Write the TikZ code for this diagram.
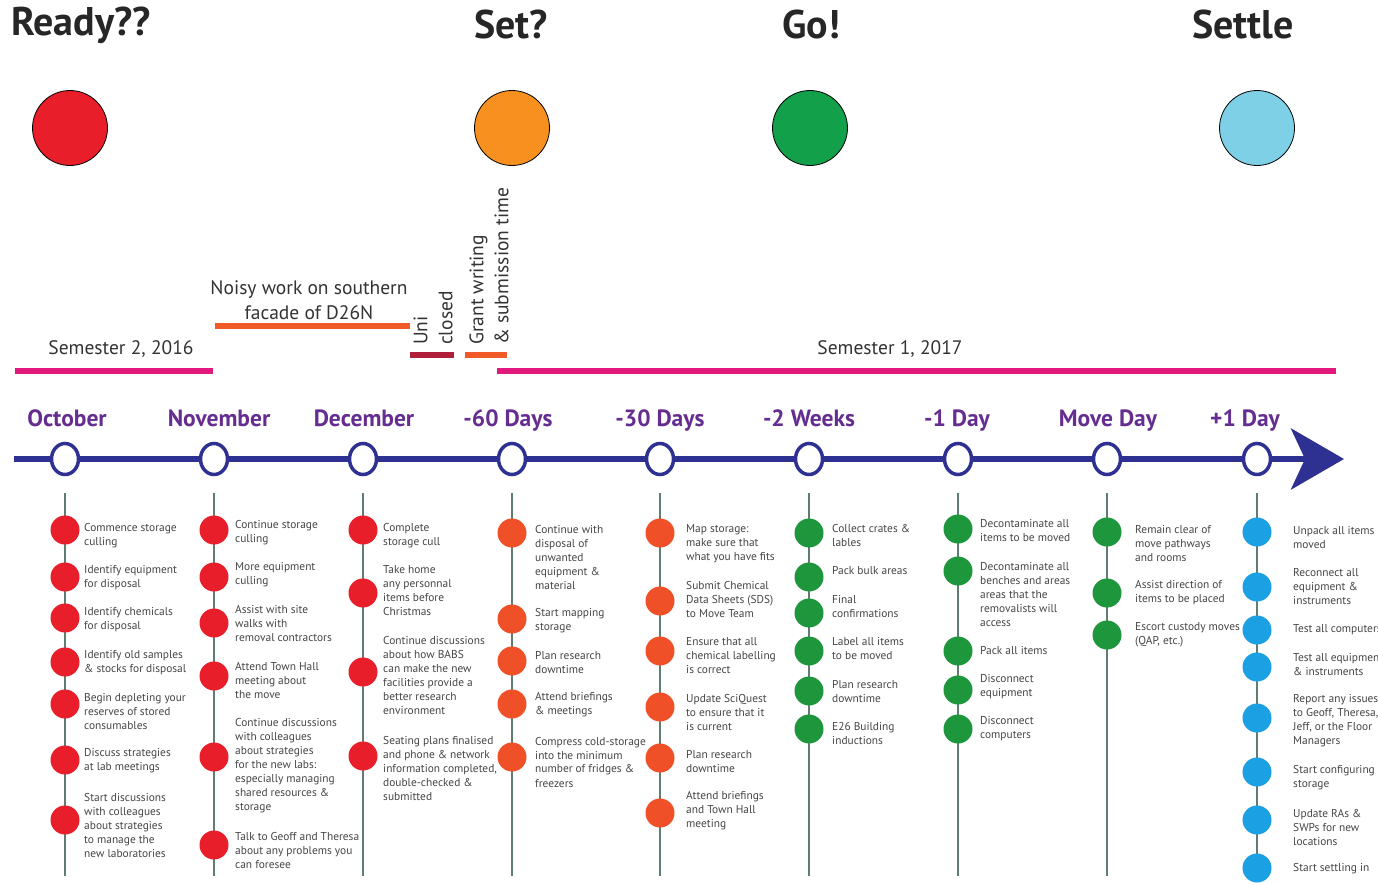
\documentclass[tikz,border=0pt]{standalone}
\usepackage{fontspec}
\setmainfont{PT Sans}
\usetikzlibrary{positioning,arrows.meta,shapes.geometric}

\definecolor{tlnavy}{RGB}{46,49,146}
\definecolor{tlpurple}{RGB}{102,45,145}
\definecolor{stemgrey}{RGB}{95,125,112}
\definecolor{dotred}{RGB}{232,30,42}
\definecolor{dotorange}{RGB}{240,80,40}
\definecolor{dotgreen}{RGB}{30,150,60}
\definecolor{dotblue}{RGB}{28,160,228}
\definecolor{bigred}{RGB}{232,30,42}
\definecolor{bigorange}{RGB}{247,144,30}
\definecolor{biggreen}{RGB}{18,160,74}
\definecolor{bigblue}{RGB}{125,208,230}
\definecolor{semmagenta}{RGB}{225,25,125}
\definecolor{noisyorange}{RGB}{240,90,40}
\definecolor{unired}{RGB}{176,30,60}
\definecolor{tasktext}{RGB}{70,70,70}

\tikzset{
  phase/.style={font=\fontsize{40}{44}\selectfont\bfseries, text=black!85, inner sep=0},
  bigdot/.style={circle, draw=black, line width=0.8pt, minimum size=75pt},
  month/.style={font=\fontsize{23.5}{26}\selectfont\bfseries, text=tlpurple, inner sep=0, anchor=base},
  marker/.style={ellipse, draw=tlnavy, line width=3.5pt, fill=white, minimum width=27pt, minimum height=31pt, inner sep=0},
  stem/.style={stemgrey, line width=2pt},
  dot/.style={circle, minimum size=29pt, inner sep=0},
  task/.style={font=\fontsize{11.4}{14}\selectfont, text=tasktext, align=left, inner sep=0, anchor=west},
  period/.style={font=\fontsize{19.5}{25}\selectfont, text=black!80, inner sep=0},
  bar/.style={line width=6pt}
}

\begin{document}
\begin{tikzpicture}[x=1pt, y=-1pt]
    \useasboundingbox (0,0) rectangle (1378,883);
    \fill[white] (0,0) rectangle (1378,883);

    % phases
    \node[phase, anchor=west] (ready) at (11,25) {Ready??};
    \node[phase] (set) at (511,25) {Set?};
    \node[phase] (go) at (811,25) {Go!};
    \node[phase] (settle) at (1243,25) {Settle};
    \node[bigdot, fill=bigred] (readydot) at (70,128) {};
    \node[bigdot, fill=bigorange] (setdot) at (512,128) {};
    \node[bigdot, fill=biggreen] (godot) at (810,128) {};
    \node[bigdot, fill=bigblue] (settledot) at (1257,128) {};

    % periods
    \node[period, align=center] (noisy) at (309,300) {Noisy work on southern\\facade of D26N};
    \coordinate (noisyL) at (215,326);
    \coordinate (noisyR) at (410,326);
    \draw[bar, noisyorange] (noisyL) -- (noisyR);
    \node[period, rotate=90, align=left, anchor=west] (uni) at (433,345) {Uni\\closed};
    \coordinate (uniL) at (410,355);
    \coordinate (uniR) at (454,355);
    \draw[bar, unired] (uniL) -- (uniR);
    \node[period, rotate=90, align=left, anchor=west] (grant) at (489,345) {Grant writing\\\& submission time};
    \coordinate (grantL) at (465,355);
    \coordinate (grantR) at (507,355);
    \draw[bar, noisyorange] (grantL) -- (grantR);
    \node[period] (semtwo) at (121,349) {Semester 2, 2016};
    \coordinate (semtwoL) at (15,371);
    \coordinate (semtwoR) at (213,371);
    \draw[bar, semmagenta] (semtwoL) -- (semtwoR);
    \node[period] (semone) at (890,349) {Semester 1, 2017};
    \coordinate (semoneL) at (497,371);
    \coordinate (semoneR) at (1336,371);
    \draw[bar, semmagenta] (semoneL) -- (semoneR);

    % time line
    \coordinate (axstart) at (14,459);
    \coordinate (axtip) at (1344,459);
    \draw[tlnavy, line width=6pt, -{Stealth[length=53pt,width=61pt,inset=14pt]}] (axstart) -- (axtip);
    \foreach \x/\lx/\m [count=\i] in {65/67/October, 214/219/November, 363/364/December,
        512/508/-60 Days, 660/660/-30 Days, 809/809/-2 Weeks, 958/957/-1 Day,
        1107/1108/Move Day, 1257/1245/+1 Day} {
        \coordinate (stemtop\i) at (\x,493);
        \coordinate (stembot\i) at (\x,876);
        \draw[stem] (stemtop\i) -- (stembot\i);
        \node[marker] (m\i) at (\x,459) {};
        \node[month] (month\i) at (\lx,426) {\m};
    }

    % October
    \foreach \dy/\ty/\t [count=\i] in {530/536/{Commence storage\\culling},
        577/578/{Identify equipment\\for disposal},
        618/620/{Identify chemicals\\for disposal},
        662/663/{Identify old samples\\\& stocks for disposal},
        704/712/{Begin depleting your\\reserves of stored\\consumables},
        760/761/{Discuss strategies\\at lab meetings},
        820/825/{Start discussions\\with colleagues\\about strategies\\to manage the\\new laboratories}} {
        \node[dot, fill=dotred] (a\i) at (65,\dy) {};
        \node[task] (ta\i) at (84,\ty) {\t};
    }
    % November
    \foreach \dy/\ty/\t [count=\i] in {530/533/{Continue storage\\culling},
        577/575/{More equipment\\culling},
        623/624/{Assist with site\\walks with\\removal contractors},
        676/681/{Attend Town Hall\\meeting about\\the move},
        757/766/{Continue discussions\\with colleagues\\about strategies\\for the new labs:\\especially managing\\shared resources \&\\storage},
        845/850/{Talk to Geoff and Theresa\\about any problems you\\can foresee}} {
        \node[dot, fill=dotred] (b\i) at (214,\dy) {};
        \node[task] (tb\i) at (235,\ty) {\t};
    }
    % December
    \foreach \dy/\ty/\t [count=\i] in {530/536/{Complete\\storage cull},
        593/591/{Take home\\any personnal\\items before\\Christmas},
        672/676/{Continue discussions\\about how BABS\\can make the new\\facilities provide a\\better research\\environment},
        756/768/{Seating plans finalised\\and phone \& network\\information completed,\\double-checked \&\\submitted}} {
        \node[dot, fill=dotred] (c\i) at (363,\dy) {};
        \node[task] (tc\i) at (383,\ty) {\t};
    }
    % -60 days
    \foreach \dy/\ty/\t [count=\i] in {533/558/{Continue with\\disposal of\\unwanted\\equipment \&\\material},
        619/621/{Start mapping\\storage},
        661/663/{Plan research\\downtime},
        704/705/{Attend briefings\\\& meetings},
        757/762/{Compress cold-storage\\into the minimum\\number of fridges \&\\freezers}} {
        \node[dot, fill=dotorange] (d\i) at (512,\dy) {};
        \node[task] (td\i) at (535,\ty) {\t};
    }
    % -30 days
    \foreach \dy/\ty/\t [count=\i] in {533/544/{Map storage:\\make sure that\\what you have fits},
        601/600/{Submit Chemical\\Data Sheets (SDS)\\to Move Team},
        651/656/{Ensure that all\\chemical labelling\\is correct},
        707/713/{Update SciQuest\\to ensure that it\\is current},
        758/762/{Plan research\\downtime},
        813/811/{Attend briefings\\and Town Hall\\meeting}} {
        \node[dot, fill=dotorange] (e\i) at (660,\dy) {};
        \node[task] (te\i) at (686,\ty) {\t};
    }
    % -2 weeks
    \foreach \dy/\ty/\t [count=\i] in {533/536/{Collect crates \&\\lables},
        577/571/{Pack bulk areas},
        613/607/{Final\\confirmations},
        651/649/{Label all items\\to be moved},
        691/692/{Plan research\\downtime},
        729/734/{E26 Building\\inductions}} {
        \node[dot, fill=dotgreen] (f\i) at (809,\dy) {};
        \node[task] (tf\i) at (832,\ty) {\t};
    }
    % -1 day
    \foreach \dy/\ty/\t [count=\i] in {529/531/{Decontaminate all\\items to be moved},
        571/595/{Decontaminate all\\benches and areas\\areas that the\\removalists will\\access},
        651/651/{Pack all items},
        690/687/{Disconnect\\equipment},
        729/729/{Disconnect\\computers}} {
        \node[dot, fill=dotgreen] (g\i) at (958,\dy) {};
        \node[task] (tg\i) at (980,\ty) {\t};
    }
    % move day
    \foreach \dy/\ty/\t [count=\i] in {532/544/{Remain clear of\\move pathways\\and rooms},
        593/593/{Assist direction of\\items to be placed},
        635/635/{Escort custody moves\\(QAP, etc.)}} {
        \node[dot, fill=dotgreen] (h\i) at (1107,\dy) {};
        \node[task] (th\i) at (1135,\ty) {\t};
    }
    % +1 day
    \foreach \dy/\ty/\t [count=\i] in {532/538/{Unpack all items\\moved},
        587/587/{Reconnect all\\equipment \&\\instruments},
        630/630/{Test all computers},
        667/665/{Test all equipment\\\& instruments},
        718/721/{Report any issues\\to Geoff, Theresa,\\Jeff, or the Floor\\Managers},
        772/778/{Start configuring\\storage},
        820/827/{Update RAs \&\\SWPs for new\\locations},
        868/869/{Start settling in}} {
        \node[dot, fill=dotblue] (k\i) at (1257,\dy) {};
        \node[task] (tk\i) at (1293,\ty) {\t};
    }
\end{tikzpicture}
\end{document}
